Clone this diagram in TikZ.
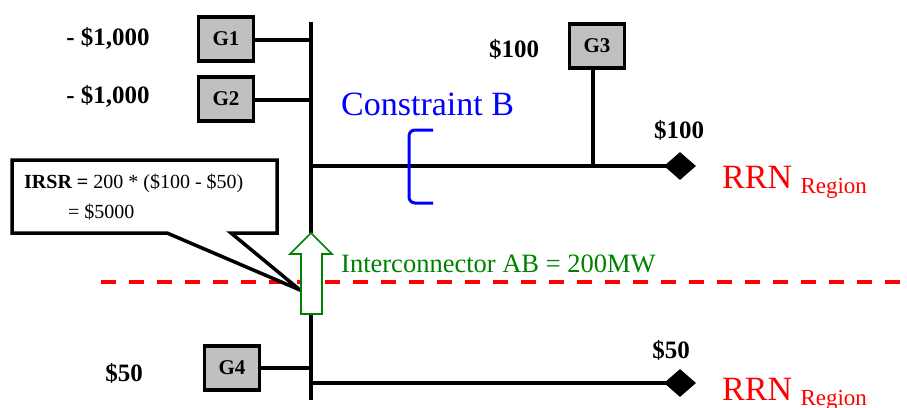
\documentclass[tikz,border=0pt]{standalone}
\usepackage{fontspec}
\setmainfont{Liberation Serif}
\usetikzlibrary{shapes.geometric}
\definecolor{gbox}{RGB}{192,192,192}
\definecolor{dgreen}{RGB}{0,128,0}
\tikzset{
  bus/.style={line width=3.5pt,black},
  gen/.style={draw=black,line width=3.5pt,fill=gbox,minimum width=55pt,minimum height=44pt,inner sep=0pt,font=\fontsize{21}{24}\selectfont\bfseries,anchor=center},
  price/.style={font=\fontsize{25}{29}\selectfont\bfseries,inner sep=0pt},
  rrn/.style={text=red,font=\fontsize{34}{40}\selectfont,inner sep=0pt,anchor=base west},
  sub/.style={text=red,font=\fontsize{23}{26}\selectfont,inner sep=0pt,anchor=base west},
  dia/.style={diamond,fill=black,draw=none,minimum width=32pt,minimum height=28pt,inner sep=0pt}
}
\begin{document}
\begin{tikzpicture}[x=1pt,y=-1pt]
\useasboundingbox (0,0) rectangle (907,407);
% bus coordinates
\coordinate (bt) at (311,22);
\coordinate (bb) at (311,400);
\coordinate (jA1) at (311,40);
\coordinate (jA2) at (311,100);
\coordinate (jB) at (311,166);
\coordinate (jG3) at (593,166);
\coordinate (jG4) at (311,368);
\coordinate (jC) at (311,383);
\coordinate (atip) at (311,233);
\coordinate (abot) at (311,314);
% red dashed boundary
\coordinate (rl) at (101,282);
\coordinate (rr) at (907,282);
\draw[red,line width=3.5pt,dash pattern=on 15pt off 13pt] (rl) -- (rr);
% bus
\draw[bus] (bt) -- (atip);
\draw[bus] (abot) -- (bb);
% generators
\node[gen] (G1) at (226,39) {G1};
\node[gen] (G2) at (226,99) {G2};
\node[gen] (G3) at (597,46) {G3};
\node[gen] (G4) at (232,368) {G4};
\draw[bus] (G1.east |- jA1) -- (jA1);
\draw[bus] (G2.east |- jA2) -- (jA2);
\draw[bus] (G4.east |- jG4) -- (jG4);
\draw[bus] (G3.south -| jG3) -- (jG3);
% diamonds
\node[dia] (D1) at (680,166) {};
\node[dia] (D2) at (680,383) {};
\draw[bus] (jB) -- (D1.center);
\draw[bus] (jC) -- (D2.center);
% prices
\node[price] (p1) at (108,38) {- \$1,000};
\node[price] (p2) at (108,96) {- \$1,000};
\node[price] (p3) at (514,49) {\$100};
\node[price] (p4) at (679,130) {\$100};
\node[price] (p5) at (124,373) {\$50};
\node[price] (p6) at (671,350) {\$50};
% RRN labels
\node[rrn] (r1) at (722,188) {RRN};
\node[sub] (s1) at ([xshift=8pt,yshift=-5pt]r1.base east) {Region};
\node[rrn] (r2) at (722,400) {RRN};
\node[sub] (s2) at ([xshift=8pt,yshift=-5pt]r2.base east) {Region};
% constraint B
\node[text=blue,font=\fontsize{34}{40}\selectfont,inner sep=0pt,anchor=base west] (cb) at (341,115) {Constraint B};
\coordinate (bk1) at (433,130);
\coordinate (bk2) at (409,130);
\coordinate (bk3) at (409,203);
\coordinate (bk4) at (433,203);
\draw[blue,line width=3pt,rounded corners=6pt] (bk1) -- (bk2) -- (bk3) -- (bk4);
% callout
\coordinate (c1) at (12,160);
\coordinate (c2) at (277,160);
\coordinate (c3) at (277,233);
\coordinate (c4) at (231,233);
\coordinate (ctip) at (300,290);
\coordinate (c5) at (167,233);
\coordinate (c6) at (12,233);
\draw[line width=3.5pt,fill=white,line join=miter] (c1) -- (c2) -- (c3) -- (c4) -- (ctip) -- (c5) -- (c6) -- cycle;
\node[font=\fontsize{20}{24}\selectfont,inner sep=0pt,anchor=base west] (irsr) at (24,188) {\textbf{IRSR =} 200 * (\$100 - \$50)};
\node[font=\fontsize{20}{24}\selectfont,inner sep=0pt,anchor=base west] (irsr2) at (68,218) {= \$5000};
% interconnector arrow
\coordinate (a1) at (332,254);
\coordinate (a2) at (322,254);
\coordinate (a3) at (322,314);
\coordinate (a4) at (301,314);
\coordinate (a5) at (301,254);
\coordinate (a6) at (290,254);
\draw[dgreen,line width=1.6pt,fill=white,line join=miter] (atip) -- (a1) -- (a2) -- (a3) -- (a4) -- (a5) -- (a6) -- cycle;
\node[text=dgreen,font=\fontsize{26.5}{30}\selectfont,inner sep=0pt,anchor=base west] (ic) at (341,272) {Interconnector AB = 200MW};
\end{tikzpicture}
\end{document}
